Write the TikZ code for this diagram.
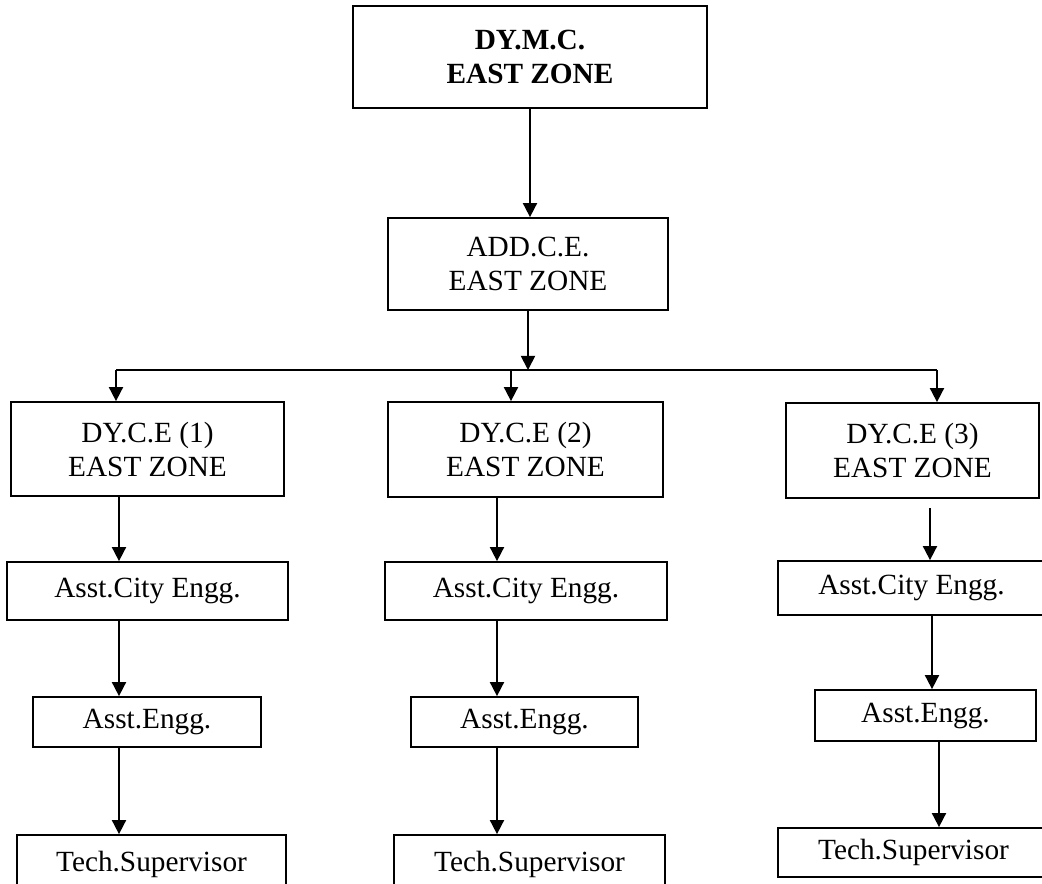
\documentclass[tikz,border=0pt]{standalone}
\usepackage{fontspec}
\setmainfont{Liberation Serif}
\usetikzlibrary{arrows.meta}

\tikzset{
  post/.style 2 args={draw, line width=0.75pt, align=center, inner sep=0pt,
    minimum width=#1*0.015cm, minimum height=#2*0.015cm,
    font=\fontsize{12.5}{14.5}\selectfont},
  chief/.style={line width=1.2pt, font=\fontsize{12.5}{14.5}\selectfont\bfseries},
  link/.style={line width=0.75pt, -{Triangle[length=6pt,width=6pt]}}
}

\begin{document}
\begin{tikzpicture}[x=0.015cm, y=-0.015cm] %positions in pixels of the chart
\useasboundingbox (0,0) rectangle (1042,884);
\clip (0,0) rectangle (1042,884);

\node[post={354}{102}, chief] (dymc) at (530,57) {DY.M.C.\\EAST ZONE};
\node[post={280}{92}] (addce) at (528,264) {ADD.C.E.\\EAST ZONE};

\node[post={273}{94}] (dyce1) at (147.5,449) {DY.C.E (1)\\EAST ZONE};
\node[post={275}{95}] (dyce2) at (525.5,449.5) {DY.C.E (2)\\EAST ZONE};
\node[post={253}{95}] (dyce3) at (912.5,450.5) {DY.C.E (3)\\EAST ZONE};

\node[post={281}{58}] (ace1) at (147.5,591) {Asst.City Engg.};
\node[post={282}{58}] (ace2) at (526,591) {Asst.City Engg.};
\node[post={267}{54}] (ace3) at (911.5,588) {Asst.City Engg.};

\node[post={228}{50}] (ae1) at (147,722) {Asst.Engg.};
\node[post={227}{50}] (ae2) at (524.5,722) {Asst.Engg.};
\node[post={221}{51}] (ae3) at (925.5,715.5) {Asst.Engg.};

\node[post={269}{58}] (ts1) at (151.5,864) {Tech.Supervisor};
\node[post={271}{58}] (ts2) at (529.5,864) {Tech.Supervisor};
\node[post={271}{49}] (ts3) at (913.5,852.5) {Tech.Supervisor};

% branch line
\coordinate (b1) at (116,370);
\coordinate (b2) at (511,370);
\coordinate (b3) at (937,370);
\draw[line width=0.75pt] (b1) -- (b3);

\draw[link] (dymc.south) -- (dymc.south |- addce.north);
\draw[link] (addce.south) -- (addce.south |- b1);
\draw[link] (b1) -- (b1 |- dyce1.north);
\draw[link] (b2) -- (b2 |- dyce2.north);
\draw[link] (b3) -- (b3 |- dyce3.north);

% columns
\coordinate (c1) at (119,0);
\coordinate (c2) at (497,0);
\coordinate (c3) at (930,0);
\coordinate (c4) at (932,0);
\coordinate (c5) at (939,0);

\draw[link] (dyce1.south -| c1) -- (ace1.north -| c1);
\draw[link] (ace1.south -| c1) -- (ae1.north -| c1);
\draw[link] (ae1.south -| c1) -- (ts1.north -| c1);

\draw[link] (dyce2.south -| c2) -- (ace2.north -| c2);
\draw[link] (ace2.south -| c2) -- (ae2.north -| c2);
\draw[link] (ae2.south -| c2) -- (ts2.north -| c2);

\draw[link, shorten <=4] (dyce3.south -| c3) -- (ace3.north -| c3);
\draw[link] (ace3.south -| c4) -- (ae3.north -| c4);
\draw[link] (ae3.south -| c5) -- (ts3.north -| c5);
\end{tikzpicture}
\end{document}
